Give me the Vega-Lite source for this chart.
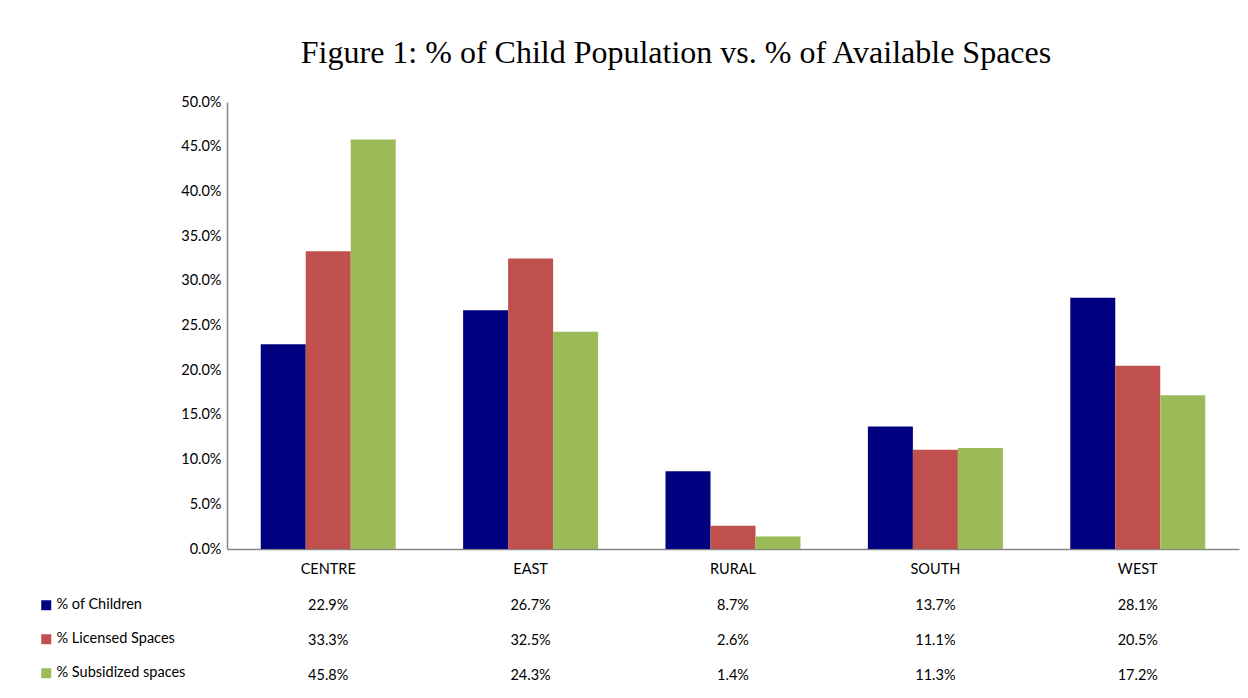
{
  "$schema": "https://vega.github.io/schema/vega-lite/v6.json",
  "background": "white",
  "padding": {"left": 39, "top": 37, "right": 8, "bottom": 5},
  "title": {"text": "Figure 1: % of Child Population vs. % of Available Spaces", "font": "Liberation Serif", "fontSize": 32, "fontWeight": "normal", "color": "black", "anchor": "middle", "offset": 24, "dx": 37},
  "datasets": {
    "d": [
      {"region": "CENTRE", "series": "% of Children", "value": 0.229},
      {"region": "CENTRE", "series": "% Licensed Spaces", "value": 0.333},
      {"region": "CENTRE", "series": "% Subsidized spaces", "value": 0.458},
      {"region": "EAST", "series": "% of Children", "value": 0.267},
      {"region": "EAST", "series": "% Licensed Spaces", "value": 0.325},
      {"region": "EAST", "series": "% Subsidized spaces", "value": 0.243},
      {"region": "RURAL", "series": "% of Children", "value": 0.087},
      {"region": "RURAL", "series": "% Licensed Spaces", "value": 0.026},
      {"region": "RURAL", "series": "% Subsidized spaces", "value": 0.014},
      {"region": "SOUTH", "series": "% of Children", "value": 0.137},
      {"region": "SOUTH", "series": "% Licensed Spaces", "value": 0.111},
      {"region": "SOUTH", "series": "% Subsidized spaces", "value": 0.113},
      {"region": "WEST", "series": "% of Children", "value": 0.281},
      {"region": "WEST", "series": "% Licensed Spaces", "value": 0.205},
      {"region": "WEST", "series": "% Subsidized spaces", "value": 0.172}
    ]
  },
  "data": {"name": "d"},
  "spacing": 12,
  "config": {
    "view": {"stroke": null},
    "font": "Lato",
    "axis": {"labelFont": "Lato", "labelColor": "black", "labelFontSize": 14.5}
  },
  "vconcat": [
    {
      "width": 1012,
      "height": 447,
      "mark": {"type": "bar"},
      "encoding": {
        "x": {"field": "region", "type": "nominal", "sort": ["CENTRE", "EAST", "RURAL", "SOUTH", "WEST"],
              "scale": {"paddingInner": 0.333, "paddingOuter": 0.1667},
              "axis": {"title": null, "labelAngle": 0, "ticks": false, "domainColor": "#868686", "domainWidth": 1.5, "labelPadding": 13}},
        "xOffset": {"field": "series", "sort": ["% of Children", "% Licensed Spaces", "% Subsidized spaces"]},
        "y": {"field": "value", "type": "quantitative", "scale": {"domain": [0, 0.5]},
              "axis": {"title": null, "format": ".1%", "values": [0, 0.05, 0.1, 0.15, 0.2, 0.25, 0.3, 0.35, 0.4, 0.45, 0.5], "grid": false, "ticks": false, "domainColor": "#868686", "domainWidth": 1.5, "labelPadding": 6}},
        "color": {"field": "series", "type": "nominal",
                  "scale": {"domain": ["% of Children", "% Licensed Spaces", "% Subsidized spaces"], "range": ["#000080", "#C0504D", "#9BBB59"]},
                  "legend": {"orient": "none", "legendX": -188, "legendY": 496, "title": null, "symbolType": "square", "symbolSize": 100, "symbolStrokeWidth": 0, "labelFontSize": 14.5, "labelColor": "black", "labelOffset": 3, "rowPadding": 19, "labelFont": "Lato"}}
      }
    },
    {
      "width": 1012,
      "height": 105,
      "mark": {"type": "text", "fontSize": 14.5, "color": "black", "font": "Lato"},
      "encoding": {
        "x": {"field": "region", "type": "nominal", "sort": ["CENTRE", "EAST", "RURAL", "SOUTH", "WEST"],
              "scale": {"paddingInner": 0.333, "paddingOuter": 0.1667}, "axis": null},
        "y": {"field": "series", "type": "nominal", "sort": ["% of Children", "% Licensed Spaces", "% Subsidized spaces"], "axis": null},
        "text": {"field": "value", "type": "quantitative", "format": ".1%"}
      }
    }
  ]
}
